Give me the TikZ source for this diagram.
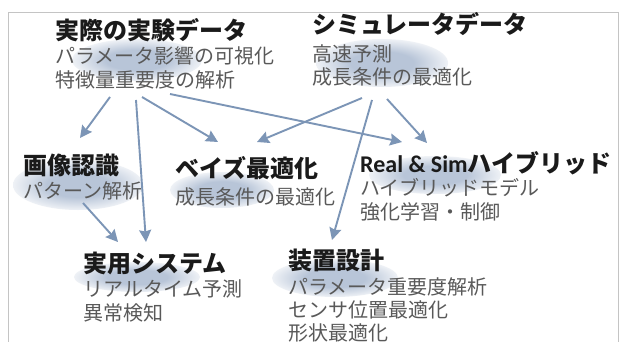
\documentclass[tikz,border=0pt]{standalone}
\usepackage{fontspec}
\newfontfamily\jp{Noto Sans CJK JP}
\newfontfamily\carl{Carlito}
\usetikzlibrary{arrows.meta}
\definecolor{cArrow}{HTML}{7C95B6}
\definecolor{cBlob}{HTML}{B8C5D8}
\definecolor{cFrame}{HTML}{C4C4C4}
\definecolor{cTitle}{HTML}{1A1A1A}
\definecolor{cSub}{HTML}{595959}
\pgfdeclareradialshading{blobshade}{\pgfpoint{0bp}{0bp}}{color(0bp)=(cBlob); color(12bp)=(cBlob); color(29bp)=(white); color(50bp)=(white)}
\tikzset{
 ttl/.style={anchor=base west, inner sep=0pt, font=\jp\bfseries\fontsize{24}{24}\selectfont, text=cTitle},
 sbl/.style={anchor=base west, inner sep=0pt, font=\jp\fontsize{20}{20}\selectfont, text=cSub},
 link/.style={draw=cArrow, line width=1.9pt, -{Stealth[length=12pt,width=12pt,inset=1.5pt]}},
 glow/.style={shading=blobshade},
}
\begin{document}
\begin{tikzpicture}[x=1pt,y=-1pt]
\useasboundingbox (0,0) rectangle (621,342);
\fill[white] (0,0) rectangle (621,342);
% soft highlights
\shade[glow] (137,60) ellipse (65pt and 21pt);
\shade[glow] (382,63) ellipse (66pt and 24pt);
\shade[glow] (78,185) ellipse (65pt and 25pt);
\shade[glow] (222,190) ellipse (52pt and 18pt);
\shade[glow] (435,175) ellipse (66pt and 19pt);
\shade[glow] (335,278) ellipse (63pt and 19pt);
\shade[glow] (137,277) ellipse (63pt and 15pt);
% frame
\draw[cFrame, line width=0.8pt] (8,342) -- (8,12.5) -- (618,12.5) -- (618,342);
% texts
\node[ttl] (realT) at (55,39.5) {実際の実験データ};
\node[sbl] (realA) at (55,63.4) {パラメータ影響の可視化};
\node[sbl] (realB) at (55,87.4) {特徴量重要度の解析};
\node[ttl] (simT) at (312,34) {シミュレータデータ};
\node[sbl] (simA) at (312,61.4) {高速予測};
\node[sbl] (simB) at (312,84.4) {成長条件の最適化};
\node[ttl] (imgT) at (23,175) {画像認識};
\node[sbl] (imgA) at (23,198.4) {パターン解析};
\node[ttl] (bayT) at (175,178) {ベイズ最適化};
\node[sbl] (bayA) at (175,204.4) {成長条件の最適化};
\node[ttl] (hybT) at (360,172) {{\carl\bfseries Real \& Sim}ハイブリッド};
\node[sbl] (hybA) at (360,195.4) {ハイブリッドモデル};
\node[sbl] (hybB) at (360,219.4) {強化学習・制御};
\node[ttl] (devT) at (288,269) {装置設計};
\node[sbl] (devA) at (288,294.4) {パラメータ重要度解析};
\node[sbl] (devB) at (288,317.4) {センサ位置最適化};
\node[sbl] (devC) at (288,340) {形状最適化};
\node[ttl] (useT) at (83,272) {実用システム};
\node[sbl] (useA) at (83,296.4) {リアルタイム予測};
\node[sbl] (useB) at (83,320.4) {異常検知};
% connector ends
\coordinate (rs1) at (110,97);  \coordinate (te1) at (80,138);
\coordinate (rs2) at (136,100); \coordinate (te2) at (146,242);
\coordinate (rs3) at (142,97);  \coordinate (te3) at (218,142);
\coordinate (rs4) at (170,94);  \coordinate (te4) at (402,142);
\coordinate (ss1) at (362,98);  \coordinate (te5) at (257,142);
\coordinate (ss2) at (372,100); \coordinate (te6) at (332,240);
\coordinate (ss3) at (387,99);  \coordinate (te7) at (427,143);
\coordinate (is1) at (83,203);  \coordinate (te8) at (118,242);
% connectors
\draw[link] (rs1) -- (te1);
\draw[link] (rs2) -- (te2);
\draw[link] (rs3) -- (te3);
\draw[link] (rs4) -- (te4);
\draw[link] (ss1) -- (te5);
\draw[link] (ss2) -- (te6);
\draw[link] (ss3) -- (te7);
\draw[link] (is1) -- (te8);
\end{tikzpicture}
\end{document}
